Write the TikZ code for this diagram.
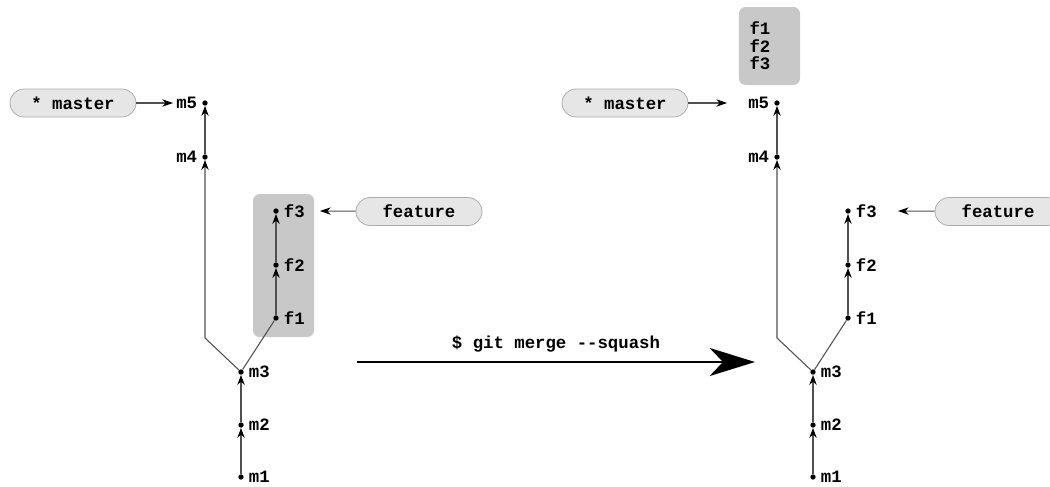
\documentclass[tikz,border=0pt]{standalone}
\usepackage{fontspec}
\newfontfamily\gitfont{Liberation Mono}
\usetikzlibrary{arrows.meta,positioning}

\definecolor{edgegray}{HTML}{505050}
\definecolor{pillfill}{HTML}{E6E6E6}
\definecolor{pillline}{HTML}{ADADAD}
\definecolor{boxfill}{HTML}{C8C8C8}

\tikzset{
    gittext/.style={font=\gitfont\bfseries\fontsize{13}{13}\selectfont},
    commit/.style={circle,fill=black,inner sep=0pt,minimum size=4pt},
    clabel/.style={gittext,inner sep=1pt,label distance=2.5pt},
    history/.style={draw=edgegray,line width=0.8pt,
        -{Stealth[length=7.5pt,width=5.5pt,inset=2.5pt,black]}},
    forkline/.style={draw=edgegray,line width=0.8pt},
    pill/.style={gittext,draw=pillline,fill=pillfill,line width=0.6pt,
        rounded corners=10.5pt,minimum width=94.5pt,minimum height=21pt,inner sep=0pt},
    pointer/.style={draw=edgegray,line width=0.8pt,
        -{Stealth[length=8pt,width=5.5pt,inset=2.5pt,black]}},
    squashbox/.style={fill=boxfill,rounded corners=5pt,inner sep=0pt},
}

\begin{document}
\begin{tikzpicture}[x=0.75pt,y=-0.75pt]

    \useasboundingbox (0,0) rectangle (1050,486);

    % ===============================
    % Bloque gris de la rama (antes)
    % ===============================
    \node[squashbox,minimum width=45.75pt,minimum height=107.25pt] (fbox) at (283.5,265.5) {};

    % ===============================
    % Historias: antes (L) y despues (R)
    % ===============================
    \foreach \g/\ox in {L/0,R/572}{
        \node[commit,label={[clabel,name=\g t1]right:m1}] (\g m1) at (241+\ox,477) {};
        \node[commit,label={[clabel,name=\g t2]right:m2}] (\g m2) at (241+\ox,425) {};
        \node[commit,label={[clabel,name=\g t3]right:m3}] (\g m3) at (241+\ox,372) {};
        \node[commit,label={[clabel,name=\g t4]left:m4}]  (\g m4) at (205+\ox,157) {};
        \node[commit,label={[clabel,name=\g t5]left:m5}]  (\g m5) at (205+\ox,103) {};
        \node[commit,label={[clabel,name=\g u1]right:f1}] (\g f1) at (276+\ox,318) {};
        \node[commit,label={[clabel,name=\g u2]right:f2}] (\g f2) at (276+\ox,265) {};
        \node[commit,label={[clabel,name=\g u3]right:f3}] (\g f3) at (276+\ox,211) {};
        \coordinate (\g bend) at (205+\ox,338);

        % aristas padre -> hijo
        \draw[history] (\g m1) -- (\g m2);
        \draw[history] (\g m2) -- (\g m3);
        \draw[history] (\g m3) -- (\g bend) -- (\g m4);
        \draw[history] (\g m4) -- (\g m5);
        \draw[forkline] (\g m3) -- (\g f1);
        \draw[history] (\g f1) -- (\g f2);
        \draw[history] (\g f2) -- (\g f3);
    }

    % ===============================
    % Ramas (punteros)
    % ===============================
    \node[pill] (Lmaster)  at (73,103)    {* master};
    \node[pill] (Lfeature) at (419,211.5) {feature};
    \node[pill] (Rmaster)  at (625,103)   {* master};
    \node[pill] (Rfeature) at (998,211.5) {feature};

    \coordinate (Lmtip) at (173,103);
    \coordinate (Lftip) at (320,211);
    \coordinate (Rmtip) at (727,103);
    \coordinate (Rftip) at (898,211);

    \draw[pointer] (Lmaster) -- (Lmtip);
    \draw[pointer] (Lfeature) -- (Lftip);
    \draw[pointer] (Rmaster) -- (Rmtip);
    \draw[pointer] (Rfeature) -- (Rftip);

    % ===============================
    % Cambios aplastados (despues)
    % ===============================
    \node[squashbox,gittext,align=left,text width=30pt,inner xsep=7.9pt,
        minimum width=45.75pt,minimum height=58.5pt] (sbox) at (769.5,46) {f1\\f2\\f3};

    % ===============================
    % Comando
    % ===============================
    \coordinate (cmdfrom) at (357,362);
    \coordinate (cmdto)   at (755,362);
    \draw[line width=2.2pt,-{Stealth[length=34pt,width=21pt,inset=10pt]}]
        (cmdfrom) -- (cmdto)
        node[midway,above=3pt,gittext] (cmd) {\$ git merge -{}-squash};

\end{tikzpicture}
\end{document}
